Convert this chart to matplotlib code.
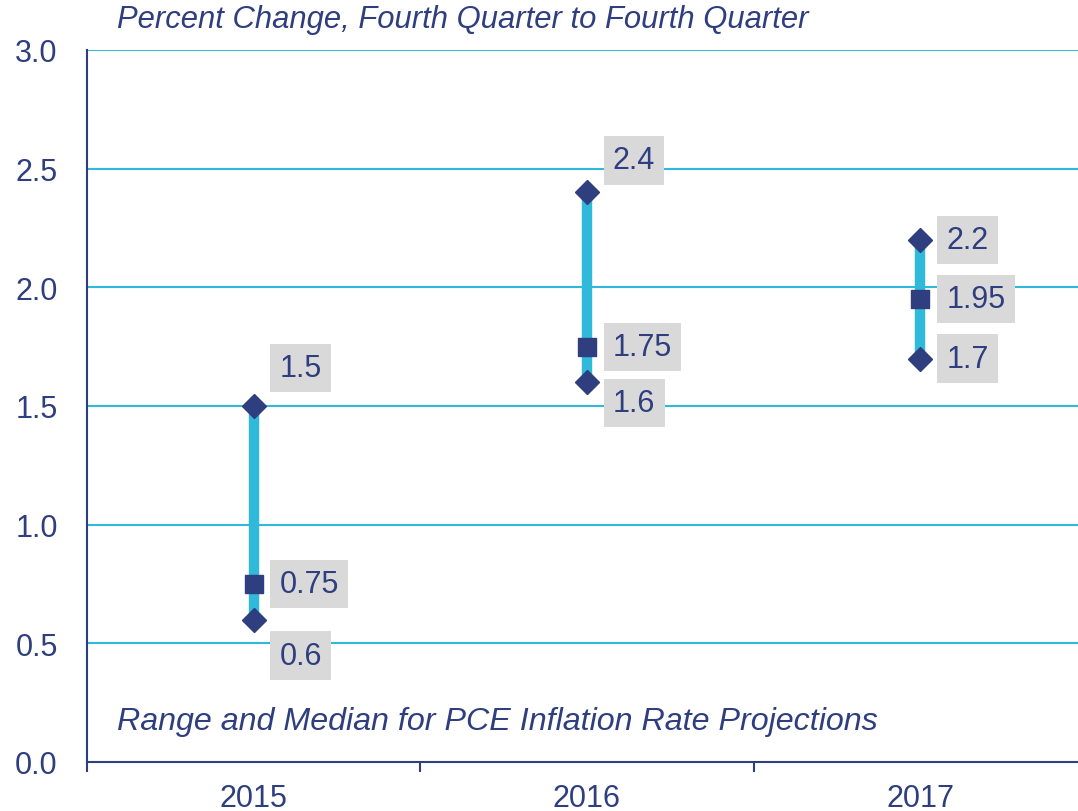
import matplotlib
matplotlib.use("Agg")
import matplotlib.pyplot as plt
from matplotlib.ticker import FixedLocator

# data
years = ["2015", "2016", "2017"]
low = [0.6, 1.6, 1.7]
high = [1.5, 2.4, 2.2]
median = [0.75, 1.75, 1.95]

# label offsets (pixels) for high, median, low
off_high = [(26, 38), (26, 32), (26, 0)]
off_med = [(26, 0), (26, 0), (26, 0)]
off_low = [(26, -36), (26, -21), (26, 0)]

navy = "#2E3E7E"
cyan = "#31B9DB"
grey = "#D9D9D9"

plt.rcParams['font.family'] = ['Liberation Sans', 'DejaVu Sans']

fig = plt.figure(figsize=(10.78, 8.12), dpi=100)
ax = fig.add_axes([87 / 1078, 49 / 812, 1000 / 1078, 712 / 812])

x = list(range(len(years)))

for yv in [0.5, 1.0, 1.5, 2.0, 2.5, 3.0]:
    ax.axhline(yv, color=cyan, lw=1.5, zorder=1)

ax.vlines(x, low, high, color=cyan, lw=7.5, zorder=2)
ax.plot(x, high, ls="none", marker="D", ms=12.5, color=navy, zorder=3)
ax.plot(x, low, ls="none", marker="D", ms=12.5, color=navy, zorder=3)
ax.plot(x, median, ls="none", marker="s", ms=12.5, color=navy, zorder=3)

box = dict(boxstyle="square,pad=0.3", fc=grey, ec="none")
for i in x:
    for val, off in [(high[i], off_high[i]), (median[i], off_med[i]), (low[i], off_low[i])]:
        ax.annotate(f"{val:g}", (i, val), xytext=off, textcoords="offset pixels",
                    ha="left", va="center", fontsize=22, color=navy, bbox=box, zorder=4)

ax.set_xlim(-0.5, 2.5)
ax.set_ylim(0, 3.0)
ax.set_yticks([0, 0.5, 1.0, 1.5, 2.0, 2.5, 3.0])
ax.set_yticklabels([f"{v:.1f}" for v in [0, 0.5, 1.0, 1.5, 2.0, 2.5, 3.0]])
ax.set_xticks(x)
ax.set_xticklabels(years)
ax.xaxis.set_minor_locator(FixedLocator([-0.5, 0.5, 1.5, 2.5]))
ax.tick_params(axis="x", which="major", length=0, pad=15, labelsize=22, labelcolor=navy)
ax.tick_params(axis="x", which="minor", length=7, width=1.5, color=navy, direction="out")
ax.tick_params(axis="y", length=0, pad=21, labelsize=22, labelcolor=navy)

for s in ["top", "right"]:
    ax.spines[s].set_visible(False)
for s in ["left", "bottom"]:
    ax.spines[s].set_color(navy)
    ax.spines[s].set_linewidth(1.5)

fig.text(117 / 1078, 1 - 20 / 812, "Percent Change, Fourth Quarter to Fourth Quarter",
         fontsize=22.3, style="italic", color=navy, ha="left", va="center")
ax.text(117 / 1078, 1 - 722 / 812, "Range and Median for PCE Inflation Rate Projections",
        transform=fig.transFigure, fontsize=23.2, style="italic", color=navy,
        ha="left", va="center")

fig.savefig("out.png", dpi=100)
